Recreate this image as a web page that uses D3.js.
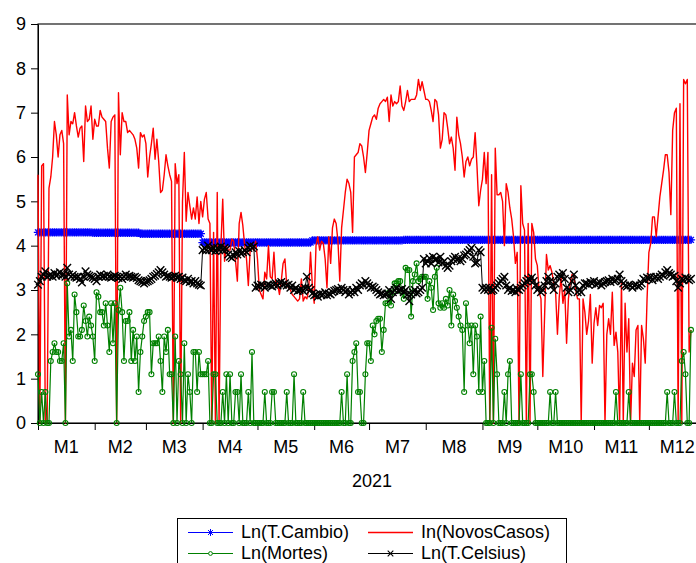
<!DOCTYPE html>
<html><head><meta charset="utf-8">
<script src="https://cdn.jsdelivr.net/npm/d3@7"></script>
<style>
body{margin:0;background:#fff;}
svg{display:block;}
text{font-family:"Liberation Sans",Arial,sans-serif;font-size:18px;fill:#000;}
</style>
</head><body>
<svg id="chart" width="696" height="563"></svg>
<script>
const months = ["M1","M2","M3","M4","M5","M6","M7","M8","M9","M10","M11","M12"];
const monthDays = [31,28,31,30,31,30,31,31,30,31,30,31];
const yTicks = [0,1,2,3,4,5,6,7,8,9];
const yearLabel = "2021";
const seriesNames = ["Ln(T.Cambio)","In(NovosCasos)","Ln(Mortes)","Ln(T.Celsius)"];

// daily values, Jan 1 onward (visible part of the year)
const lnCambio = [
4.30,4.30,4.30,4.30,4.30,4.30,4.30,4.30,4.30,4.30,
4.30,4.30,4.30,4.30,4.30,4.30,4.30,4.30,4.30,4.30,
4.30,4.30,4.30,4.30,4.30,4.30,4.30,4.30,4.30,4.30,
4.29,4.29,4.29,4.29,4.29,4.29,4.29,4.29,4.29,4.29,
4.29,4.29,4.29,4.29,4.29,4.29,4.29,4.29,4.29,4.29,
4.29,4.29,4.29,4.29,4.29,4.29,4.27,4.27,4.27,4.27,
4.27,4.27,4.27,4.27,4.27,4.27,4.27,4.27,4.27,4.27,
4.27,4.27,4.27,4.27,4.27,4.27,4.27,4.27,4.27,4.27,
4.27,4.27,4.27,4.27,4.27,4.27,4.27,4.27,4.27,4.27,
4.07,4.07,4.07,4.07,4.07,4.07,4.07,4.07,4.07,4.07,
4.07,4.07,4.07,4.07,4.07,4.07,4.07,4.07,4.07,4.07,
4.07,4.07,4.07,4.07,4.07,4.07,4.07,4.07,4.07,4.07,
4.07,4.07,4.07,4.07,4.07,4.07,4.07,4.07,4.07,4.07,
4.07,4.07,4.07,4.07,4.07,4.07,4.07,4.07,4.07,4.07,
4.07,4.07,4.07,4.07,4.07,4.07,4.07,4.07,4.07,4.07,
4.12,4.12,4.12,4.12,4.12,4.12,4.12,4.12,4.12,4.12,
4.12,4.12,4.12,4.12,4.12,4.12,4.12,4.12,4.12,4.12,
4.12,4.12,4.12,4.12,4.12,4.12,4.12,4.12,4.12,4.12,
4.12,4.12,4.12,4.12,4.12,4.12,4.12,4.12,4.12,4.12,
4.12,4.12,4.12,4.12,4.12,4.12,4.12,4.12,4.12,4.12,
4.13,4.13,4.13,4.13,4.13,4.13,4.13,4.13,4.13,4.13,
4.13,4.13,4.13,4.13,4.13,4.13,4.13,4.13,4.13,4.13,
4.13,4.13,4.13,4.13,4.13,4.13,4.13,4.13,4.13,4.13,
4.13,4.13,4.13,4.13,4.13,4.13,4.13,4.13,4.13,4.13,
4.13,4.13,4.13,4.13,4.13,4.13,4.13,4.13,4.13,4.13,
4.13,4.13,4.13,4.13,4.13,4.13,4.13,4.13,4.13,4.13,
4.13,4.13,4.13,4.13,4.13,4.13,4.13,4.13,4.13,4.13,
4.13,4.13,4.13,4.13,4.13,4.13,4.13,4.13,4.13,4.13,
4.13,4.13,4.13,4.13,4.13,4.13,4.13,4.13,4.13,4.13,
4.13,4.13,4.13,4.13,4.13,4.13,4.13,4.13,4.13,4.13,
4.13,4.13,4.13,4.13,4.13,4.13,4.13,4.13,4.13,4.13,
4.13,4.13,4.13,4.13,4.13,4.13,4.13,4.13,4.13,4.13,
4.13,4.13,4.13,4.13,4.13,4.13,4.13,4.13,4.13,4.13,
4.13,4.13,4.13,4.13,4.13,4.13,4.13,4.13,4.13,4.13,
4.13,4.13,4.13,4.13,4.13,4.13,4.13,4.13,4.13,4.13,
4.13,4.13,4.13,4.13,4.13,4.13,4.13,4.13
];

const lnNovosCasos = [
5.6,0,5.8,5.85,0,0,5.3,5.55,6.0,6.8,
6.5,6.0,6.5,6.6,6.3,0,7.4,6.5,6.8,6.75,
7.0,6.7,6.45,6.65,6.7,5.9,7.15,6.8,6.85,7.15,
6.4,6.85,6.7,6.7,7.05,6.9,6.85,6.8,6.2,5.75,
6.8,6.9,6.95,0,7.45,6.05,7.0,6.8,6.8,6.55,
6.6,6.55,6.5,6.4,6.2,5.75,6.55,6.45,6.5,6.3,
5.55,6.0,6.3,6.65,5.95,6.4,5.9,5.2,5.25,5.6,
6.05,5.8,5.6,5.45,0,5.85,5.4,5.6,0,5.0,
6.1,4.55,5.2,4.9,4.6,4.85,4.6,5.1,4.5,5.0,
4.65,5.05,5.2,4.6,4.5,0,4.3,0,5.2,0,
4.0,5.05,3.65,4.0,3.9,3.9,4.15,4.1,3.65,3.2,
4.5,4.75,4.45,4.0,3.7,3.1,3.9,3.95,3.9,4.1,
3.7,3.0,2.9,2.8,3.4,3.25,4.0,3.3,3.25,3.85,
3.1,3.15,2.9,3.2,3.6,3.7,3.1,3.05,3.0,2.9,
2.85,2.8,2.75,2.8,3.25,2.75,2.85,2.8,3.0,3.85,
3.1,2.7,4.0,4.2,3.9,4.1,4.05,3.7,3.05,4.2,
3.6,4.4,4.6,4.5,4.1,3.2,4.4,4.8,5.2,5.5,
5.4,5.2,4.3,6.0,6.05,6.1,6.3,6.25,6.0,5.65,
6.1,6.6,6.75,6.9,6.95,6.85,7.1,7.2,7.25,7.3,
7.25,7.35,6.8,7.4,7.15,7.25,7.2,7.25,7.6,7.15,
7.05,7.25,7.5,7.25,7.3,7.3,7.3,7.4,7.75,7.5,
7.7,7.5,7.3,7.3,7.25,7.05,6.8,7.3,7.25,6.95,
6.2,6.4,7.0,6.95,6.65,6.3,6.45,6.2,5.7,6.9,
6.5,6.3,6.0,5.55,5.9,6.0,5.8,5.95,6.0,6.55,
5.8,4.9,5.25,5.5,6.1,5.4,6.1,0,5.6,0,
6.2,5.15,5.15,5.2,5.0,4.0,5.4,5.2,4.85,4.6,
4.2,3.6,3.85,0,5.35,4.5,4.35,0,4.5,0,
4.5,4.3,3.7,3.55,2.95,2.8,1.05,2.45,3.8,3.45,
3.55,3.4,3.15,2.95,2.0,2.85,3.3,2.7,3.0,1.8,
2.8,3.15,3.35,3.3,3.0,2.8,2.8,0,2.8,2.5,
2.0,2.3,2.9,1.35,2.25,2.6,2.2,2.65,2.6,2.7,
0,2.0,2.35,2.0,2.95,1.75,2.05,1.6,0,3.2,
0,2.7,1.6,2.35,0,1.35,1.05,2.1,2.2,0,
2.2,1.9,1.35,2.8,3.85,4.05,4.65,4.65,4.2,4.65,
5.1,5.4,5.7,6.05,6.05,5.65,4.7,6.6,7.0,7.1,
0,7.2,0,7.75,7.65,7.75,1.6,2.1
];

const lnMortes = [
1.1,0,0.7,0,0.7,0,0,1.4,1.6,1.8,
1.6,1.6,1.4,1.4,1.8,0,3.15,1.95,2.1,1.4,
2.9,2.5,1.95,1.95,2.1,2.65,2.3,1.95,2.4,2.2,
1.95,1.4,2.95,2.85,2.5,2.5,2.2,2.7,2.2,1.6,
2.7,1.8,2.7,0,2.55,3.05,2.5,1.4,2.3,2.3,
2.5,1.4,2.1,1.4,1.95,0.7,1.6,1.95,2.3,2.4,
2.5,2.5,1.1,1.8,1.8,1.8,1.95,1.4,0.7,1.95,
1.6,2.1,1.1,1.1,0,1.95,0,1.4,1.1,0,
1.8,0,1.1,0.7,0,1.6,1.6,0.7,1.6,1.1,
1.1,1.1,1.1,1.4,0,0,1.1,1.1,0,0,
0,0.7,0,1.1,0,1.1,0,0,0.7,0.7,
0,1.1,0,0,0,0.7,0,1.6,0,0,
0,0,0,0,0.7,0,0,0,0.7,0.7,
0,0,0,0,0,0,0.7,0,0,0,
1.1,0,0,0,0,0.7,0,0,0,0,
0,0,0,0,0,0,0,0,0,0,
0,0,0,0,0,0,0.7,0,0,1.1,
0,0,1.4,1.6,1.8,0.7,0.7,0,0,1.1,
1.8,1.8,1.4,2.2,2.0,2.3,2.35,2.35,1.6,2.1,
2.7,2.7,2.95,2.65,2.95,3.15,3.15,3.2,3.2,2.95,
2.8,3.5,3.45,3.45,2.4,3.2,3.35,3.6,3.2,3.25,
3.3,3.3,3.3,2.8,3.2,3.05,2.55,3.3,3.5,2.7,
2.6,2.7,2.6,2.8,2.65,3.0,2.2,2.9,2.75,2.6,
2.4,2.2,2.1,0.7,2.7,2.2,1.8,2.2,1.1,2.2,
1.95,0.7,2.4,0.7,1.4,0,0,0,2.15,0,
1.9,1.1,0,0,0,0.7,0,1.1,1.4,0,
0,0,0,0,1.1,0,0,0,0,1.1,
1.1,0.7,0,0,0,0,0,0,0,0,
0.7,0,0,0.7,0,0,0,0,0,0,
0,0,0,0,0,0,0,0,0,0,
0,0,0,0,0,0,0,0,0,0,
0,0,0,0,0,0,0.7,0,0,0,
0,0,0,0.7,0,0,0,0,0,0,
0,0,0,0,0,0,0,0,0,0,
0,0,0,0,0.7,0,0,0,0.7,0,
0,0,1.4,1.6,1.1,0,0,2.1
];

const lnCelsius = [
3.12,3.2,3.3,3.35,3.42,3.3,3.32,3.35,3.3,3.38,
3.32,3.35,3.4,3.33,3.36,3.3,3.5,3.35,3.3,3.34,
3.3,3.28,3.3,3.25,3.17,3.3,3.42,3.35,3.32,3.3,
3.28,3.25,3.2,3.3,3.35,3.3,3.32,3.3,3.35,3.3,
3.28,3.3,3.32,3.3,3.27,3.3,3.25,3.3,3.35,3.3,
3.32,3.3,3.28,3.3,3.27,3.22,3.2,3.18,3.15,3.18,
3.2,3.22,3.25,3.3,3.32,3.36,3.4,3.45,3.4,3.35,
3.3,3.32,3.3,3.28,3.3,3.32,3.28,3.3,3.25,3.28,
3.22,3.2,3.25,3.18,3.2,3.15,3.2,3.15,3.12,3.1,
3.9,3.95,3.9,4.0,3.92,3.9,3.95,3.88,3.95,3.9,
3.98,3.9,3.95,3.92,3.8,3.75,3.72,3.78,3.85,3.8,
3.88,3.82,3.85,3.9,3.85,3.95,4.0,3.95,3.98,3.05,
3.1,3.08,3.12,3.1,3.05,3.1,3.12,3.1,3.08,3.12,
3.15,3.1,3.15,3.18,3.12,3.15,3.1,3.12,3.05,3.1,
3.0,3.05,2.98,3.0,3.02,2.98,3.05,3.3,3.05,3.0,
2.92,2.88,2.9,2.85,2.92,2.88,2.9,2.95,2.88,2.92,
2.9,2.95,2.98,3.0,3.02,2.98,3.05,3.0,2.95,3.0,
2.9,2.95,3.0,2.95,3.05,3.0,3.1,3.15,3.12,3.2,
3.15,3.1,3.05,3.08,3.05,3.0,2.95,2.9,2.92,2.88,
2.9,2.92,3.0,2.8,2.95,3.0,3.05,2.98,3.0,3.02,
2.95,3.0,2.9,2.75,2.9,2.95,3.0,2.92,2.95,3.0,
3.05,3.7,3.6,3.65,3.72,3.6,3.75,3.68,3.7,3.62,
3.75,3.6,3.65,3.55,3.5,3.55,3.65,3.7,3.75,3.68,
3.72,3.65,3.7,3.78,3.8,3.85,3.9,3.95,3.75,3.6,
3.62,3.9,3.85,3.05,3.0,3.05,3.0,3.05,2.98,3.0,
3.05,3.1,3.15,3.2,3.25,3.3,3.1,3.0,3.05,2.98,
3.0,2.95,3.02,3.0,3.05,3.1,3.15,3.2,3.25,3.22,
3.28,3.2,3.1,3.0,3.05,2.95,3.0,3.1,3.2,3.3,
3.2,3.1,3.0,3.15,3.3,3.35,3.3,3.38,3.25,3.05,
2.95,3.0,3.2,3.35,3.1,2.95,3.0,2.95,3.1,3.15,
3.15,3.12,3.18,3.15,3.2,3.12,3.15,3.18,3.1,3.15,
3.18,3.2,3.22,3.18,3.25,3.2,3.22,3.25,3.35,3.2,
3.15,3.1,3.08,3.12,3.1,3.05,3.1,3.12,3.08,3.1,
3.15,3.25,3.22,3.28,3.25,3.3,3.22,3.28,3.3,3.25,
3.3,3.35,3.32,3.4,3.45,3.38,3.35,3.3,3.32,3.2,
3.05,3.15,3.25,3.22,3.28,3.25,3.22,3.25
];

// ---------- layout ----------
const svg = d3.select("#chart");
const plotLeft = 38, plotTop = 24, plotBottom = 423, pxPerDay = 1.829;
const totalDays = d3.sum(monthDays);
const x = d3.scaleLinear().domain([0, totalDays]).range([plotLeft, plotLeft + totalDays * pxPerDay]);
const y = d3.scaleLinear().domain([0, 9]).range([plotBottom, plotTop]);

const monthStarts = [0];
monthDays.forEach((n, i) => monthStarts.push(monthStarts[i] + n));

// frame
svg.append("rect")
  .attr("x", x(0)).attr("y", y(9))
  .attr("width", x(totalDays) - x(0)).attr("height", y(0) - y(9))
  .attr("fill", "none").attr("stroke", "#000").attr("stroke-width", 1.1);

// y axis
const gy = svg.append("g").attr("transform", `translate(${x(0)},0)`)
  .call(d3.axisLeft(y).tickValues(yTicks).tickSize(7).tickSizeOuter(0).tickPadding(5).tickFormat(d3.format("d")));
gy.attr("font-size", null).attr("font-family", null);
gy.select(".domain").attr("stroke", "#000");
gy.selectAll("line").attr("stroke", "#000");

// x axis ticks at month starts
const gx = svg.append("g").attr("transform", `translate(0,${y(0)})`)
  .call(d3.axisBottom(x).tickValues(monthStarts).tickSize(7).tickSizeOuter(0).tickFormat(""));
gx.select(".domain").attr("stroke", "#000");
gx.selectAll("line").attr("stroke", "#000");

// month labels centred in each month
svg.append("g").selectAll("text").data(months).join("text")
  .attr("x", (d, i) => x((monthStarts[i] + monthStarts[i + 1]) / 2))
  .attr("y", 453)
  .attr("text-anchor", "middle")
  .text(d => d);

svg.append("text").attr("x", 372).attr("y", 487).attr("text-anchor", "middle").text(yearLabel);

// ---------- series ----------
const line = d3.line().x((d, i) => x(i)).y(d => y(d));
const plot = svg.append("g");

const asterisk = "M0,-4.2V4.2M-4.2,0H4.2M-3,-3L3,3M-3,3L3,-3";
const cross = "M-3.8,-3.8L3.8,3.8M-3.8,3.8L3.8,-3.8";

// T.Cambio (blue)
plot.append("path").datum(lnCambio).attr("d", line)
  .attr("fill", "none").attr("stroke", "#0000ff").attr("stroke-width", 1);
plot.append("g").selectAll("path").data(lnCambio).join("path")
  .attr("transform", (d, i) => `translate(${x(i)},${y(d)})`)
  .attr("d", asterisk).attr("stroke", "#0000ff").attr("stroke-width", 1.3).attr("fill", "none");

// NovosCasos (red)
plot.append("path").datum(lnNovosCasos).attr("d", line)
  .attr("fill", "none").attr("stroke", "#ff0000").attr("stroke-width", 1.4).attr("stroke-linejoin", "round");

// Mortes (green)
plot.append("path").datum(lnMortes).attr("d", line)
  .attr("fill", "none").attr("stroke", "#008000").attr("stroke-width", 1.2);
plot.append("g").selectAll("circle").data(lnMortes).join("circle")
  .attr("cx", (d, i) => x(i)).attr("cy", d => y(d)).attr("r", 2.5)
  .attr("fill", "none").attr("stroke", "#008000").attr("stroke-width", 1.1);

// T.Celsius (black)
plot.append("path").datum(lnCelsius).attr("d", line)
  .attr("fill", "none").attr("stroke", "#000").attr("stroke-width", 1);
plot.append("g").selectAll("path").data(lnCelsius).join("path")
  .attr("transform", (d, i) => `translate(${x(i)},${y(d)})`)
  .attr("d", cross).attr("stroke", "#000").attr("stroke-width", 1.4).attr("fill", "none");

// ---------- legend ----------
const lg = svg.append("g");
lg.append("rect").attr("x", 177.5).attr("y", 518.5).attr("width", 389).attr("height", 60)
  .attr("fill", "#fff").attr("stroke", "#000").attr("stroke-width", 1);

const legendItems = [
  {name: seriesNames[0], color: "#0000ff", mark: "ast", lx: 188, tx: 241, ly: 532.5},
  {name: seriesNames[1], color: "#ff0000", mark: null,  lx: 368, tx: 421, ly: 532.5},
  {name: seriesNames[2], color: "#008000", mark: "circ", lx: 188, tx: 241, ly: 553.5},
  {name: seriesNames[3], color: "#000000", mark: "x",   lx: 368, tx: 421, ly: 553.5}
];
legendItems.forEach(it => {
  lg.append("line").attr("x1", it.lx).attr("x2", it.lx + 45).attr("y1", it.ly).attr("y2", it.ly)
    .attr("stroke", it.color).attr("stroke-width", it.mark === null ? 1.4 : 1.2);
  const cx = it.lx + 22.5;
  if (it.mark === "ast") lg.append("path").attr("transform", `translate(${cx},${it.ly})`)
    .attr("d", "M0,-3.5V3.5M-3.5,0H3.5M-2.5,-2.5L2.5,2.5M-2.5,2.5L2.5,-2.5").attr("stroke", it.color).attr("stroke-width", 1);
  if (it.mark === "circ") lg.append("circle").attr("cx", cx).attr("cy", it.ly).attr("r", 1.9)
    .attr("fill", "#fff").attr("stroke", it.color).attr("stroke-width", 1);
  if (it.mark === "x") lg.append("path").attr("transform", `translate(${cx},${it.ly})`)
    .attr("d", "M-2.8,-2.8L2.8,2.8M-2.8,2.8L2.8,-2.8").attr("stroke", it.color).attr("stroke-width", 1.1);
  lg.append("text").attr("x", it.tx).attr("y", it.ly + 5.2).text(it.name);
});
</script>
</body></html>
